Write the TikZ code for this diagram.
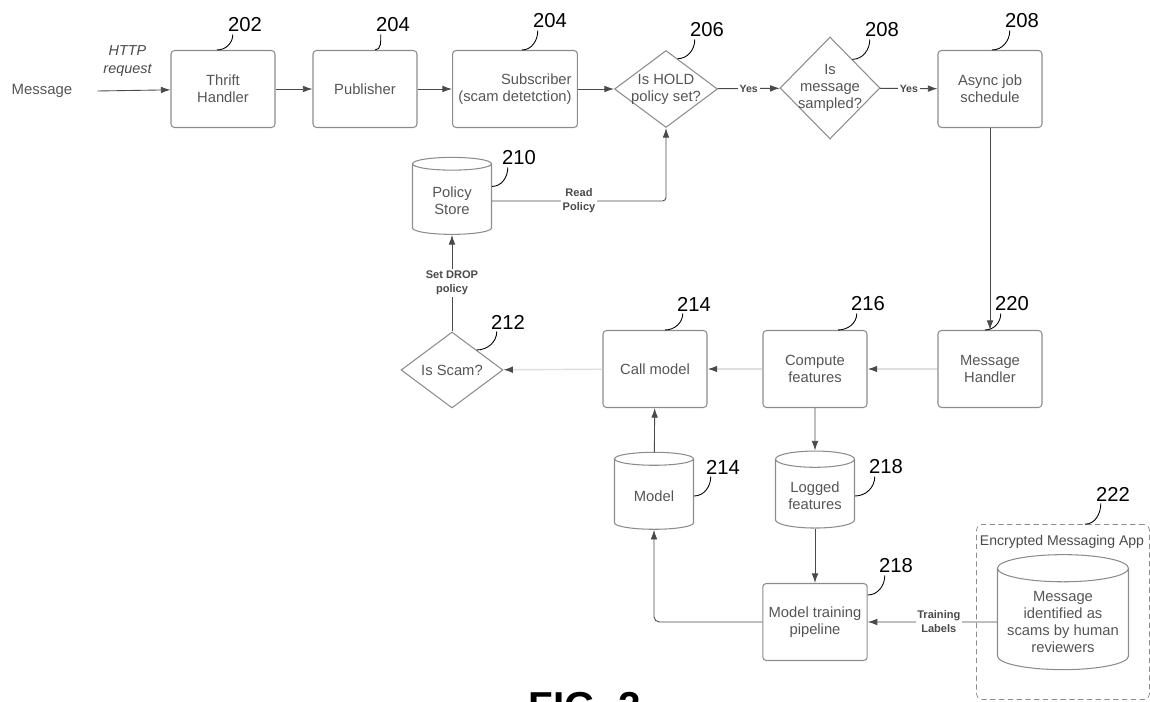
\documentclass[tikz,border=0pt]{standalone}
\usepackage{fontspec}
\setmainfont{Liberation Sans}
\usepackage{tikz}
\usetikzlibrary{arrows.meta,positioning,shapes.geometric}
\definecolor{txt}{HTML}{555555}
\definecolor{rim}{HTML}{8C8C8C}
\definecolor{ink}{HTML}{4A4A4A}
\definecolor{pale}{HTML}{DEDEDE}

\begin{document}
\begin{tikzpicture}[x=0.02cm,y=-0.02cm,
  block/.style={rectangle, draw=rim, line width=0.6pt, rounded corners=2pt, minimum width=2.08cm, minimum height=1.54cm, text=txt, align=center, font=\fontsize{8.4}{9.8}\selectfont},
  decision/.style={diamond, draw=rim, line width=0.6pt, inner sep=-4pt, text=txt, align=center, font=\fontsize{8.4}{9.8}\selectfont},
  store/.style={cylinder, shape border rotate=90, aspect=0.25, draw=rim, line width=0.6pt, minimum width=1.58cm, minimum height=1.54cm, text=txt, align=center, font=\fontsize{8.4}{9.8}\selectfont},
  num/.style={inner sep=0pt, font=\fontsize{11.5}{12}\selectfont},
  lab/.style={fill=white, inner sep=1pt, align=center, text=ink, font=\bfseries\fontsize{6.3}{8}\selectfont},
  flow/.style={draw=ink, line width=0.5pt, -{Latex[length=5.5pt,width=3.8pt]}},
  faint/.style={draw=pale, line width=0.8pt, -{Latex[length=5.5pt,width=3.8pt,color=ink]}},
  tick/.style={draw=black, line width=0.5pt}]
\useasboundingbox (0,0) rectangle (1150,702);

% top row
\node [inner sep=0pt, text=txt, font=\fontsize{8.5}{10}\selectfont] (msg) at (42,91) {Message};
\node [block] (thrift) at (223,89) {Thrift\\Handler};
\node [block] (pub) at (365,89) {Publisher};
\node [block, align=right] (sub) at (515,89) {Subscriber\\(scam detetction)};
\node [decision, minimum width=2.06cm, minimum height=1.54cm] (hold) at (666,89) {Is HOLD\\policy set?};
\node [decision, minimum width=2.0cm, minimum height=2.04cm] (sampled) at (830,88) {Is\\message\\sampled?};
\node [block] (async) at (990,89) {Async job\\schedule};

% policy side
\node [store] (policy) at (452,201) {Policy\\Store};
\node [decision, minimum width=2.04cm, minimum height=1.52cm] (scam) at (452,370) {Is Scam?};

% middle row
\node [block] (call) at (655,369) {Call model};
\node [block] (compute) at (815,369) {Compute\\features};
\node [block] (handler) at (990,369) {Message\\Handler};

% bottom
\node [store] (model) at (654,496) {Model};
\node [store] (logged) at (815,496) {Logged\\features};
\node [block] (train) at (815,622) {Model training\\pipeline};
\node [draw=rim, dashed, dash pattern=on 3pt off 2pt, rounded corners=3pt, minimum width=3.46cm, minimum height=3.5cm] (app) at (1063,612) {};
\node [text=ink, font=\fontsize{8}{9.6}\selectfont] (apptitle) at (1062,542) {Encrypted Messaging App};
\node [store, minimum width=2.62cm, minimum height=2.3cm, aspect=0.22] (review) at (1063,622) {Message\\identified as\\scams by human\\reviewers};

% arrows
\draw [flow] ([xshift=0.5cm]msg.east) -- node[pos=0.41, above=8pt, inner sep=0pt, align=center, text=ink, font=\itshape\fontsize{8.2}{10}\selectfont] {HTTP\\request} (thrift);
\draw [flow] (thrift) -- (pub);
\draw [flow] (pub) -- (sub);
\draw [flow] (sub) -- (hold);
\draw [flow] (hold) -- node[lab, font=\bfseries\fontsize{6}{7}\selectfont] {Yes} (sampled);
\draw [flow] (sampled) -- node[lab, font=\bfseries\fontsize{6}{7}\selectfont] {Yes} (async);
\draw [flow] (async) -- (handler);
\draw [faint] (handler) -- (compute);
\draw [faint] (compute) -- (call);
\draw [faint] (call) -- (scam);
\draw [flow] (scam) -- node[lab] {Set DROP\\policy} (policy);
\draw [flow, rounded corners=2pt] (policy.east) -| node[lab, pos=0.25] {Read\\Policy} (hold.south);
\draw [flow] (compute) -- (logged);
\draw [flow] (logged) -- (train);
\draw [flow] (model) -- (call);
\draw [flow, rounded corners=3pt] (train.west) -| (model.south);
\draw [flow] (review) -- node[lab, pos=0.45] {Training\\Labels} (train);

% reference numbers
\node [num] (n202) at (245,25) {202};
\node [num] (n204a) at (393,25) {204};
\node [num] (n204b) at (550,21) {204};
\node [num] (n206) at (707,30) {206};
\node [num] (n208a) at (882,30) {208};
\node [num] (n208b) at (1022,21) {208};
\node [num] (n210) at (519,158) {210};
\node [num] (n212) at (508,322) {212};
\node [num] (n214a) at (694,304) {214};
\node [num] (n216) at (868,304) {216};
\node [num] (n220) at (1012,304) {220};
\node [num] (n214b) at (723,467) {214};
\node [num] (n218a) at (886,467) {218};
\node [num] (n218b) at (896,566) {218};
\node [num] (n222) at (1113,494) {222};

\draw [tick] ([xshift=-0.12cm]thrift.north) to[out=0,in=-90] ([shift={(5,2)}]n202.south west);
\draw [tick] ([xshift=0.2cm]pub.north) to[out=0,in=-90] ([shift={(5,2)}]n204a.south west);
\draw [tick] ([xshift=0.14cm]sub.north) to[out=0,in=-90] ([shift={(5,2)}]n204b.south west);
\draw [tick] (hold.69) to[out=0,in=-90] ([shift={(5,2)}]n206.south west);
\draw [tick] (sampled.52) to[out=0,in=-90] ([shift={(5,2)}]n208a.south west);
\draw [tick] ([xshift=0.04cm]async.north) to[out=0,in=-90] ([shift={(5,2)}]n208b.south west);
\draw [tick] (policy.20) to[out=0,in=-90] ([shift={(6,2)}]n210.south west);
\draw [tick] (scam.39) to[out=0,in=-90] ([shift={(6,2)}]n212.south west);
\draw [tick] ([xshift=0.2cm]call.north) to[out=0,in=-90] ([shift={(6,2)}]n214a.south west);
\draw [tick] ([xshift=0.46cm]compute.north) to[out=0,in=-90] ([shift={(6,2)}]n216.south west);
\draw [tick] ([xshift=-0.1cm]handler.north) to[out=0,in=-90] ([shift={(6,2)}]n220.south west);
\draw [tick] (model.east) to[out=0,in=-90] ([shift={(5,2)}]n214b.south west);
\draw [tick] (logged.east) to[out=0,in=-90] ([shift={(6,2)}]n218a.south west);
\draw [tick] ([yshift=0.54cm]train.east) to[out=0,in=-90] ([shift={(6,2)}]n218b.south west);
\draw [tick] ([xshift=0.44cm]app.north) to[out=0,in=-90] ([shift={(5,2)}]n222.south west);

% figure caption, cut by the page edge as in the scan
\node [anchor=base west, inner sep=0pt, font=\bfseries\fontsize{23}{24}\selectfont] (fig) at (528,720) {FIG. 2};
\end{tikzpicture}
\end{document}
